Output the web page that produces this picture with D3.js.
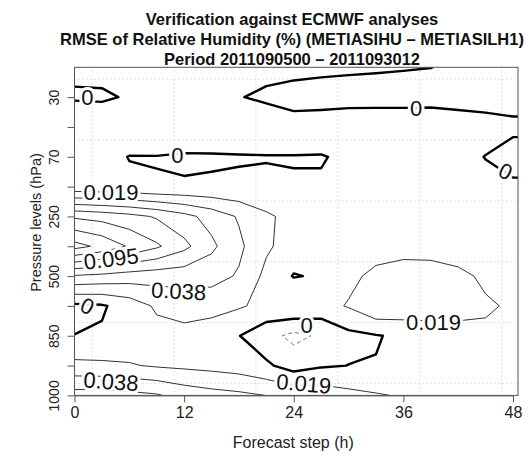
<!DOCTYPE html>
<html>
<head>
<meta charset="UTF-8" />
<script src="https://cdn.jsdelivr.net/npm/d3@7"></script>
<style>
  body { margin: 0; background: #fff; }
  svg text { font-family: "Liberation Sans", Arial, Helvetica, sans-serif; }
</style>
</head>
<body>
<div id="chart"></div>
<script>
// forecast steps (h) of the data columns
const steps = [0, 3, 6, 9, 12, 15, 18, 21, 24, 27, 30, 33, 36, 39, 42, 45, 48];
// pressure levels (hPa), top row first
const levels = ["20", "30", "50", "70", "150", "250", "400", "500", "700", "850", "925", "1000"];
const levelTicks = ["30", "70", "250", "500", "850", "1000"];
const stepTicks = [0, 12, 24, 36, 48];
const thresholds = [-0.019, 0, 0.019, 0.038, 0.057, 0.076, 0.095, 0.114, 0.133];

// RMSE difference, one row per level, one value per step
const rmse = [
  [0.0037, 0.007, 0.008, 0.009, 0.01, 0.01, 0.009, 0.0068, 0.0063, 0.0046, 0.0032, 0.00175, 0.0011, 0.0002, -0.003, -0.004, -0.004],
  [-0.002, -0.003, 0.002, 0.004, 0.005, 0.004, 0.001, -0.004, -0.008, -0.009, -0.009, -0.007, -0.008, -0.008, -0.008, -0.008, -0.008],
  [0.015, 0.016, 0.014, 0.013, 0.013, 0.012, 0.012, 0.015, 0.009, 0.0119, 0.0153, 0.0124, 0.0142, 0.0149, 0.0106, 0.0074, 0.0043],
  [0.01, 0.006, -0.0005, -0.0004, -0.0018, -0.0015, -0.001, -0.0008, -0.0005, -0.001, 0.003, 0.005, 0.006, 0.006, 0.006, -0.0005, -0.0083],
  [0.005, 0.004, 0.003, 0.0006, 0.001, 0.0015, 0.002, 0.003, 0.0008, 0.0016, 0.005, 0.007, 0.008, 0.008, 0.007, 0.005, 0.0036],
  [0.092, 0.088, 0.082, 0.074, 0.063, 0.05, 0.036, 0.022, 0.013, 0.008, 0.006, 0.006, 0.007, 0.007, 0.006, 0.005, 0.004],
  [0.14, 0.128, 0.112, 0.098, 0.081, 0.061, 0.042, 0.022, 0.01, 0.006, 0.008, 0.01, 0.011, 0.011, 0.01, 0.008, 0.006],
  [0.055, 0.052, 0.048, 0.046, 0.046, 0.045, 0.036, 0.014, -0.001, 0.002, 0.014, 0.024, 0.029, 0.028, 0.023, 0.016, 0.01],
  [-0.004, -0.002, 0.008, 0.022, 0.026, 0.026, 0.021, 0.014, 0.018, 0.012, 0.0205, 0.035, 0.033, 0.032, 0.028, 0.021, 0.017],
  [0.0002, 0.002, 0.006, 0.012, 0.0137, 0.0085, 0.0005, -0.012, -0.024, -0.016, -0.0047, -0.001, 0.003, 0.006, 0.01, 0.016, 0.015],
  [0.0237, 0.0225, 0.0205, 0.017, 0.015, 0.013, 0.01, 0.003, -0.008, -0.002, 0.0002, 0.0006, 0.004, 0.006, 0.008, 0.01, 0.01],
  [0.065, 0.0656, 0.0625, 0.059, 0.05, 0.045, 0.042, 0.0378, 0.032, 0.03, 0.0243, 0.0206, 0.0174, 0.01, 0.01, 0.01, 0.01]
];

// contour labels: step (h), level index, text angle
const contourLabels = [
  { text: "0", step: 1.4, level: 1.0, angle: 0 },
  { text: "0", step: 11.25, level: 2.94, angle: 0 },
  { text: "0", step: 37.4, level: 1.38, angle: 0 },
  { text: "0", step: 47.2, level: 3.48, angle: 25 },
  { text: "0", step: 1.4, level: 8.0, angle: 25 },
  { text: "0", step: 25.4, level: 8.64, angle: 0 },
  { text: "0.019", step: 4.0, level: 4.18, angle: 0 },
  { text: "0.095", step: 4.0, level: 6.41, angle: -7 },
  { text: "0.038", step: 11.4, level: 7.5, angle: 3 },
  { text: "0.038", step: 4.0, level: 10.53, angle: 4 },
  { text: "0.019", step: 39.3, level: 8.55, angle: 0 },
  { text: "0.019", step: 25.1, level: 10.6, angle: 5 }
];

const width = 528, height = 456;
const box = { left: 74.5, right: 518, top: 67.3, bottom: 395.4 };

const svg = d3.select("#chart").append("svg")
  .attr("width", width)
  .attr("height", height);

const x = d3.scaleLinear().domain([0, 48]).range([box.left, 513]);
const y = d3.scaleLinear().domain([0, levels.length - 1]).range([box.top, box.bottom]);

// dotted grid
const gridSteps = [1.95, 10.9, 19.85, 28.8, 37.8, 46.75];
const gridLevels = [0.4, 2.44, 4.48, 6.52, 8.56, 10.6];
const grid = svg.append("g")
  .attr("stroke", "#c4c4c4")
  .attr("stroke-width", 1)
  .attr("stroke-dasharray", "1,3");
grid.selectAll("line.v").data(gridSteps).join("line")
  .attr("x1", d => x(d)).attr("x2", d => x(d))
  .attr("y1", box.top).attr("y2", box.bottom);
grid.selectAll("line.h").data(gridLevels).join("line")
  .attr("x1", box.left).attr("x2", box.right)
  .attr("y1", d => y(d)).attr("y2", d => y(d));

// contours: pad the grid by one cell so lines run on to the frame
const nx = steps.length + 2, ny = levels.length + 2;
const values = [];
for (let j = 0; j < ny; j++) {
  const r = Math.max(0, Math.min(levels.length - 1, j - 1));
  for (let i = 0; i < nx; i++) {
    const c = Math.max(0, Math.min(steps.length - 1, i - 1));
    values.push(rmse[r][c]);
  }
}
const gx = d3.scaleLinear().domain([1.5, nx - 1.5]).range([steps[0], steps[steps.length - 1]]);
const gy = d3.scaleLinear().domain([1.5, ny - 1.5]).range([0, levels.length - 1]);

const contours = d3.contours().size([nx, ny]).thresholds(thresholds)(values);
const path = d3.geoPath(d3.geoTransform({
  point: function (px, py) { this.stream.point(x(gx(px)), y(gy(py))); }
}));

svg.append("clipPath").attr("id", "plotclip")
  .append("rect")
  .attr("x", box.left).attr("y", box.top)
  .attr("width", box.right - box.left).attr("height", box.bottom - box.top);

svg.append("g")
  .attr("clip-path", "url(#plotclip)")
  .selectAll("path")
  .data(contours)
  .join("path")
  .attr("d", path)
  .attr("fill", "none")
  .attr("stroke-linejoin", "round")
  .attr("stroke", d => d.value === 0 ? "#000" : d.value < 0 ? "#777" : "#333")
  .attr("stroke-width", d => d.value === 0 ? 2.4 : 1)
  .attr("stroke-dasharray", d => d.value < 0 ? "4,3" : null);

// contour labels with a white halo for the gap in the line
svg.append("g")
  .selectAll("text")
  .data(contourLabels)
  .join("text")
  .attr("transform", d => "translate(" + x(d.step) + "," + y(d.level) + ") rotate(" + d.angle + ")")
  .attr("text-anchor", "middle")
  .attr("dy", "0.36em")
  .attr("font-size", 22)
  .attr("fill", "#111")
  .attr("stroke", "#fff")
  .attr("stroke-width", 6)
  .attr("paint-order", "stroke")
  .text(d => d.text);

// frame
svg.append("rect")
  .attr("x", box.left).attr("y", box.top)
  .attr("width", box.right - box.left).attr("height", box.bottom - box.top)
  .attr("fill", "none").attr("stroke", "#555").attr("stroke-width", 1);

// axes
const xAxis = svg.append("g")
  .attr("transform", "translate(0," + box.bottom + ")")
  .style("color", "#555")
  .call(d3.axisBottom(x).tickValues(stepTicks).tickSize(7).tickSizeOuter(0).tickPadding(4));
xAxis.selectAll("text").attr("font-size", 16).attr("fill", "#222");

const yAxis = svg.append("g")
  .attr("transform", "translate(" + box.left + ",0)")
  .style("color", "#555")
  .call(d3.axisLeft(y)
    .tickValues(d3.range(1, levels.length))
    .tickSize(7).tickSizeOuter(0)
    .tickFormat(i => levelTicks.includes(levels[i]) ? levels[i] : ""));
yAxis.select(".domain").remove();
yAxis.selectAll("text")
  .attr("x", null).attr("dy", null)
  .attr("text-anchor", "middle")
  .attr("transform", "translate(-15.5,0) rotate(-90)")
  .attr("font-size", 14)
  .attr("fill", "#222");

// titles
const titles = [
  "Verification against ECMWF analyses",
  "RMSE of Relative Humidity (%) (METIASIHU \u2013 METIASILH1)",
  "Period 2011090500 \u2013 2011093012"
];
svg.append("g").selectAll("text").data(titles).join("text")
  .attr("x", 292)
  .attr("y", (d, i) => 25 + i * 20)
  .attr("text-anchor", "middle")
  .attr("font-size", 16.5)
  .attr("font-weight", "bold")
  .attr("fill", "#111")
  .text(d => d);

svg.append("text")
  .attr("x", (box.left + box.right) / 2 - 3)
  .attr("y", 448)
  .attr("text-anchor", "middle")
  .attr("font-size", 16)
  .attr("fill", "#222")
  .text("Forecast step (h)");

svg.append("text")
  .attr("transform", "translate(41,222.5) rotate(-90)")
  .attr("text-anchor", "middle")
  .attr("font-size", 14.5)
  .attr("fill", "#222")
  .text("Pressure levels (hPa)");
</script>
</body>
</html>
